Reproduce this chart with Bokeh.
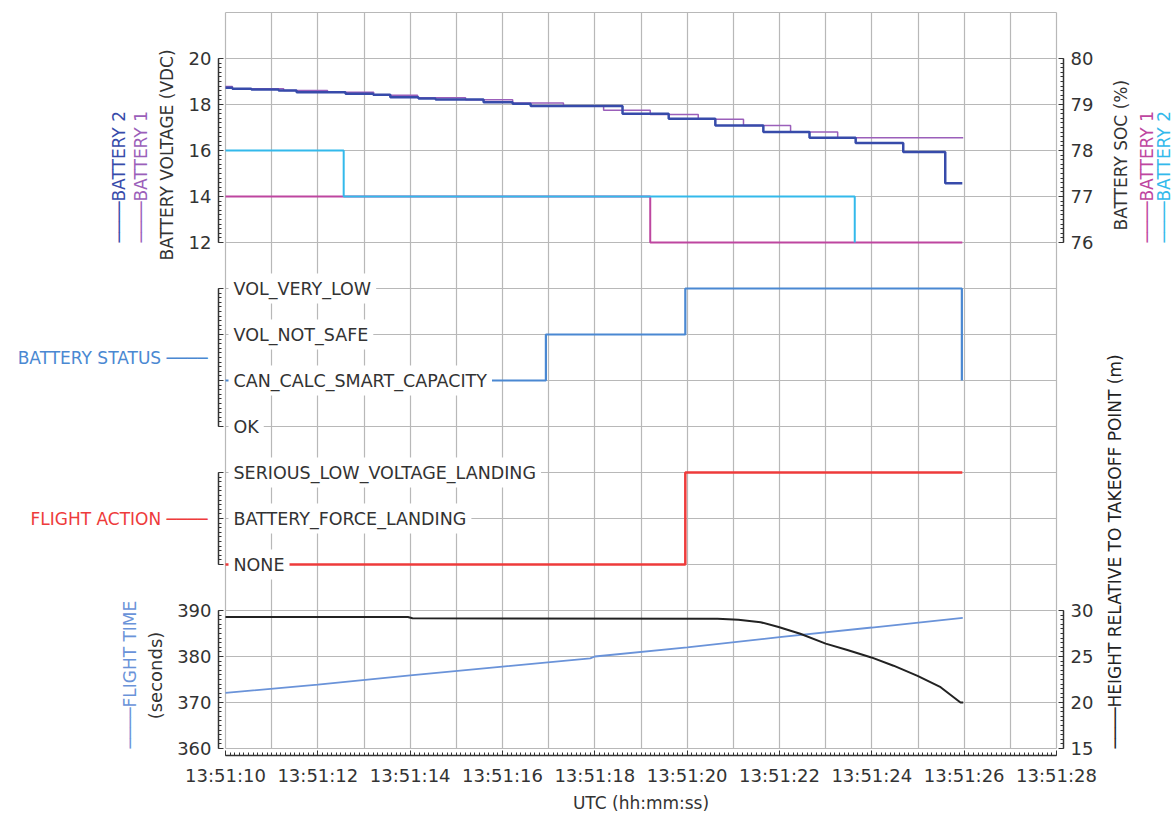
from bokeh.plotting import figure
from bokeh.models import (Range1d, LinearAxis, DatetimeAxis, SingleIntervalTicker,
                          DatetimeTickFormatter, Grid, Label, LabelSet, ColumnDataSource)
from bokeh.core.properties import value
from bokeh.embed import file_html
from bokeh.resources import INLINE

# ---------------- data (time = seconds after 13:51:00 UTC) ----------------
BATT1_VOLT_T = [10.0, 10.15, 11.26, 12.21, 13.21, 14.16, 15.2, 16.22, 17.32, 18.19,
                19.2, 20.24, 21.22, 22.24, 23.26, 25.98]
BATT1_VOLT = [18.78, 18.68, 18.61, 18.53, 18.40, 18.29, 18.21, 18.06, 17.93, 17.75,
              17.57, 17.36, 17.09, 16.80, 16.55, 16.55]
BATT2_VOLT_T = [10.0, 10.15, 10.56, 11.15, 11.54, 12.6, 13.2, 13.57, 14.18, 14.55, 15.59,
                16.22, 16.61, 18.6, 19.6, 20.61, 21.65, 22.65, 23.65, 24.68, 25.59, 25.96]
BATT2_VOLT = [18.73, 18.68, 18.65, 18.61, 18.53, 18.47, 18.42, 18.32, 18.26, 18.22, 18.10,
              18.03, 17.93, 17.60, 17.38, 17.09, 16.80, 16.55, 16.33, 15.93, 14.58, 14.58]

BATT1_SOC_T = [10.0, 19.2, 25.96]
BATT1_SOC = [77, 76, 76]
BATT2_SOC_T = [10.0, 12.56, 23.63]
BATT2_SOC = [78, 77, 76]

STATUS_LEVELS = ["OK", "CAN_CALC_SMART_CAPACITY", "VOL_NOT_SAFE", "VOL_VERY_LOW"]
STATUS_T = [10.0, 16.94, 19.96, 25.95]
STATUS = ["CAN_CALC_SMART_CAPACITY", "VOL_NOT_SAFE", "VOL_VERY_LOW", "CAN_CALC_SMART_CAPACITY"]

ACTION_LEVELS = ["NONE", "BATTERY_FORCE_LANDING", "SERIOUS_LOW_VOLTAGE_LANDING"]
ACTION_T = [10.0, 19.96, 25.96]
ACTION = ["NONE", "SERIOUS_LOW_VOLTAGE_LANDING", "SERIOUS_LOW_VOLTAGE_LANDING"]

FLIGHT_T = [10.0, 12.0, 14.0, 16.0, 17.9, 18.0, 20.0, 22.0, 24.0, 25.97]
FLIGHT_TIME = [372.1, 373.9, 375.9, 377.8, 379.6, 380.0, 382.0, 384.2, 386.3, 388.4]

HEIGHT_T = [10.0, 13.95, 14.05, 20.66, 21.11, 21.59, 21.98, 22.24, 22.45, 23.0, 23.47,
            23.99, 24.47, 24.99, 25.49, 25.92, 25.98]
HEIGHT = [29.3, 29.3, 29.15, 29.1, 29.0, 28.73, 28.2, 27.8, 27.47, 26.4, 25.7,
          24.9, 24.0, 22.9, 21.66, 20.0, 20.0]

# ---------------- layout (pixel geometry of the canvas) ----------------
W, H = 1172, 816
BOX_L, BOX_R, BOX_T, BOX_B = 225.0, 1056.0, 12.0, 748.0   # grid box in canvas px
T0, T1 = 10.0, 28.0          # seconds shown in the grid box
NU = 16                      # grid rows
PXS = (BOX_R - BOX_L) / (T1 - T0)
PXU = (BOX_B - BOX_T) / NU
AX_GAP = 7.0                 # axes sit a few px outside the grid box

BASE_MS = (13 * 3600 + 51 * 60) * 1000  # 13:51:00


def ms(t):
    return BASE_MS + t * 1000.0


T_LEFT = T0 - BOX_L / PXS
T_RIGHT = T_LEFT + W / PXS
U_TOP = NU + BOX_T / PXU
U_BOT = U_TOP - H / PXU


def yrange(v_at_unit, unit, per_unit):
    return Range1d(v_at_unit + (U_BOT - unit) * per_unit, v_at_unit + (U_TOP - unit) * per_unit)


FONT = "DejaVu Sans"
TXT = "#333333"
GRID = "#B8B8B8"
C_B2V = "#374BAA"
C_B1V = "#9B5FBA"
C_B1S = "#BE46A0"
C_B2S = "#33B9EB"
C_STAT = "#4A88D2"
C_ACT = "#EE3B3B"
C_FT = "#6A93D9"
C_H = "#222222"
DASH = "────"

XR = Range1d(ms(T_LEFT), ms(T_RIGHT))
p = figure(width=W, height=H, x_range=XR, y_range=Range1d(U_BOT, U_TOP),
           x_axis_location=None, y_axis_location=None,
           toolbar_location=None, output_backend="svg", min_border=0,
           outline_line_color=None, background_fill_color="white", border_fill_color="white")
p.grid.visible = False

p.extra_y_ranges = {
    "volt": yrange(12, 11, 2.0),
    "soc": yrange(76, 11, 1.0),
    "status": yrange(0, 7, 1.0),
    "action": yrange(0, 4, 1.0),
    "ftime": yrange(360, 0, 10.0),
    "height": yrange(15, 0, 5.0),
}

# grid box
xgrid = Grid(dimension=0, ticker=SingleIntervalTicker(interval=1000),
             bounds=(ms(T0 - 0.01), ms(T1 + 0.01)), cross_bounds=(-0.001, NU + 0.001),
             grid_line_color=GRID, grid_line_width=1.2)
ygrid = Grid(dimension=1, ticker=SingleIntervalTicker(interval=1),
             bounds=(-0.01, NU + 0.01), cross_bounds=(ms(T0), ms(T1)),
             grid_line_color=GRID, grid_line_width=1.2)
p.add_layout(xgrid)
p.add_layout(ygrid)


def style_axis(ax, labels=True):
    ax.axis_line_color = TXT
    ax.axis_line_width = 1.5
    ax.major_tick_line_color = TXT
    ax.minor_tick_line_color = TXT
    ax.major_tick_in = 5
    ax.major_tick_out = 0
    ax.minor_tick_in = 3
    ax.minor_tick_out = 0
    ax.major_label_text_font = FONT
    ax.major_label_text_font_size = "18px"
    ax.major_label_text_color = TXT
    ax.major_label_standoff = 7
    if not labels:
        ax.major_label_text_alpha = 0


def side_axis(name, interval, bounds, side, labels=True):
    loc = ms(T0 - AX_GAP / PXS) if side == "left" else ms(T1 + AX_GAP / PXS)
    ax = LinearAxis(y_range_name=name,
                    ticker=SingleIntervalTicker(interval=interval, num_minor_ticks=10),
                    bounds=bounds, fixed_location=loc)
    style_axis(ax, labels=labels)
    p.add_layout(ax, side)
    return ax


side_axis("volt", 2, (12, 20), "left")
side_axis("status", 1, (0, 3), "left", labels=False)
side_axis("action", 1, (0, 2), "left", labels=False)
side_axis("ftime", 10, (360, 390), "left")
side_axis("soc", 1, (76, 80), "right")
side_axis("height", 5, (15, 30), "right")

fmt = "%H:%M:%S"
xax = DatetimeAxis(ticker=SingleIntervalTicker(interval=2000, num_minor_ticks=20),
                   formatter=DatetimeTickFormatter(milliseconds=fmt, seconds=fmt, minsec=fmt,
                                                   minutes=fmt, hourmin=fmt, hours=fmt),
                   bounds=(ms(T0), ms(T1)), axis_label="UTC (hh:mm:ss)",
                   fixed_location=-AX_GAP / PXU)
style_axis(xax)
xax.major_label_standoff = 9
xax.axis_label_standoff = 4
xax.axis_label_text_font = FONT
xax.axis_label_text_font_size = "17px"
xax.axis_label_text_font_style = "normal"
xax.axis_label_text_color = TXT
p.add_layout(xax, "below")

# ---------------- data marks ----------------
p.step([ms(t) for t in BATT1_VOLT_T], BATT1_VOLT, mode="after", y_range_name="volt",
       line_color=C_B1V, line_width=1.5)
p.step([ms(t) for t in BATT2_VOLT_T], BATT2_VOLT, mode="after", y_range_name="volt",
       line_color=C_B2V, line_width=2.5)
p.step([ms(t) for t in BATT1_SOC_T], BATT1_SOC, mode="after", y_range_name="soc",
       line_color=C_B1S, line_width=2)
p.step([ms(t) for t in BATT2_SOC_T], BATT2_SOC, mode="after", y_range_name="soc",
       line_color=C_B2S, line_width=2)
p.step([ms(t) for t in STATUS_T], [STATUS_LEVELS.index(s) for s in STATUS], mode="after",
       y_range_name="status", line_color=C_STAT, line_width=2.2)
p.step([ms(t) for t in ACTION_T], [ACTION_LEVELS.index(a) for a in ACTION], mode="after",
       y_range_name="action", line_color=C_ACT, line_width=2.5)
p.line([ms(t) for t in FLIGHT_T], FLIGHT_TIME, y_range_name="ftime",
       line_color=C_FT, line_width=1.8)
p.line([ms(t) for t in HEIGHT_T], HEIGHT, y_range_name="height",
       line_color=C_H, line_width=2)

# ---------------- category labels (inside the grid box) ----------------
for levels, rname in ((STATUS_LEVELS, "status"), (ACTION_LEVELS, "action")):
    src = ColumnDataSource(dict(x=[ms(T0)] * len(levels), y=list(range(len(levels))), text=levels))
    p.add_layout(LabelSet(x="x", y="y", text="text", source=src, y_range_name=rname,
                          x_offset=8, text_align="left", text_baseline="middle",
                          text_font=value(FONT), text_font_size="17.5px", text_color=TXT,
                          background_fill_color="white",
                          border_line_color="white", border_line_width=10))


# ---------------- axis titles / legends ----------------
def lab(text, x, y, rname, color, angle=90, align="left", yoff=0, size="17px"):
    p.add_layout(Label(text=text, x=x, x_units="screen", y=y, y_range_name=rname,
                       y_offset=yoff, angle=angle, angle_units="deg",
                       text_align=align, text_baseline="middle", text_font=FONT,
                       text_font_size=size, text_color=color))


lab("BATTERY VOLTAGE (VDC)", 166, 12, "volt", TXT, yoff=-18)
lab(DASH + "BATTERY 1", 140, 12, "volt", C_B1V)
lab(DASH + "BATTERY 2", 118, 12, "volt", C_B2V)
lab("BATTERY SOC (%)", 1120, 76, "soc", TXT, yoff=12)
lab(DASH + "BATTERY 1", 1146, 76, "soc", C_B1S)
lab(DASH + "BATTERY 2", 1163, 76, "soc", C_B2S)
lab("BATTERY STATUS " + DASH, 207, 1.5, "status", C_STAT, angle=0, align="right")
lab("FLIGHT ACTION " + DASH, 207, 1, "action", C_ACT, angle=0, align="right")
lab("(seconds)", 155, 360, "ftime", TXT, align="center", yoff=73, size="18px")
lab(DASH + "FLIGHT TIME", 129, 360, "ftime", C_FT)
lab(DASH + "HEIGHT RELATIVE TO TAKEOFF POINT (m)", 1114, 15, "height", C_H)

open("out.html", "w").write(file_html(p, INLINE))
